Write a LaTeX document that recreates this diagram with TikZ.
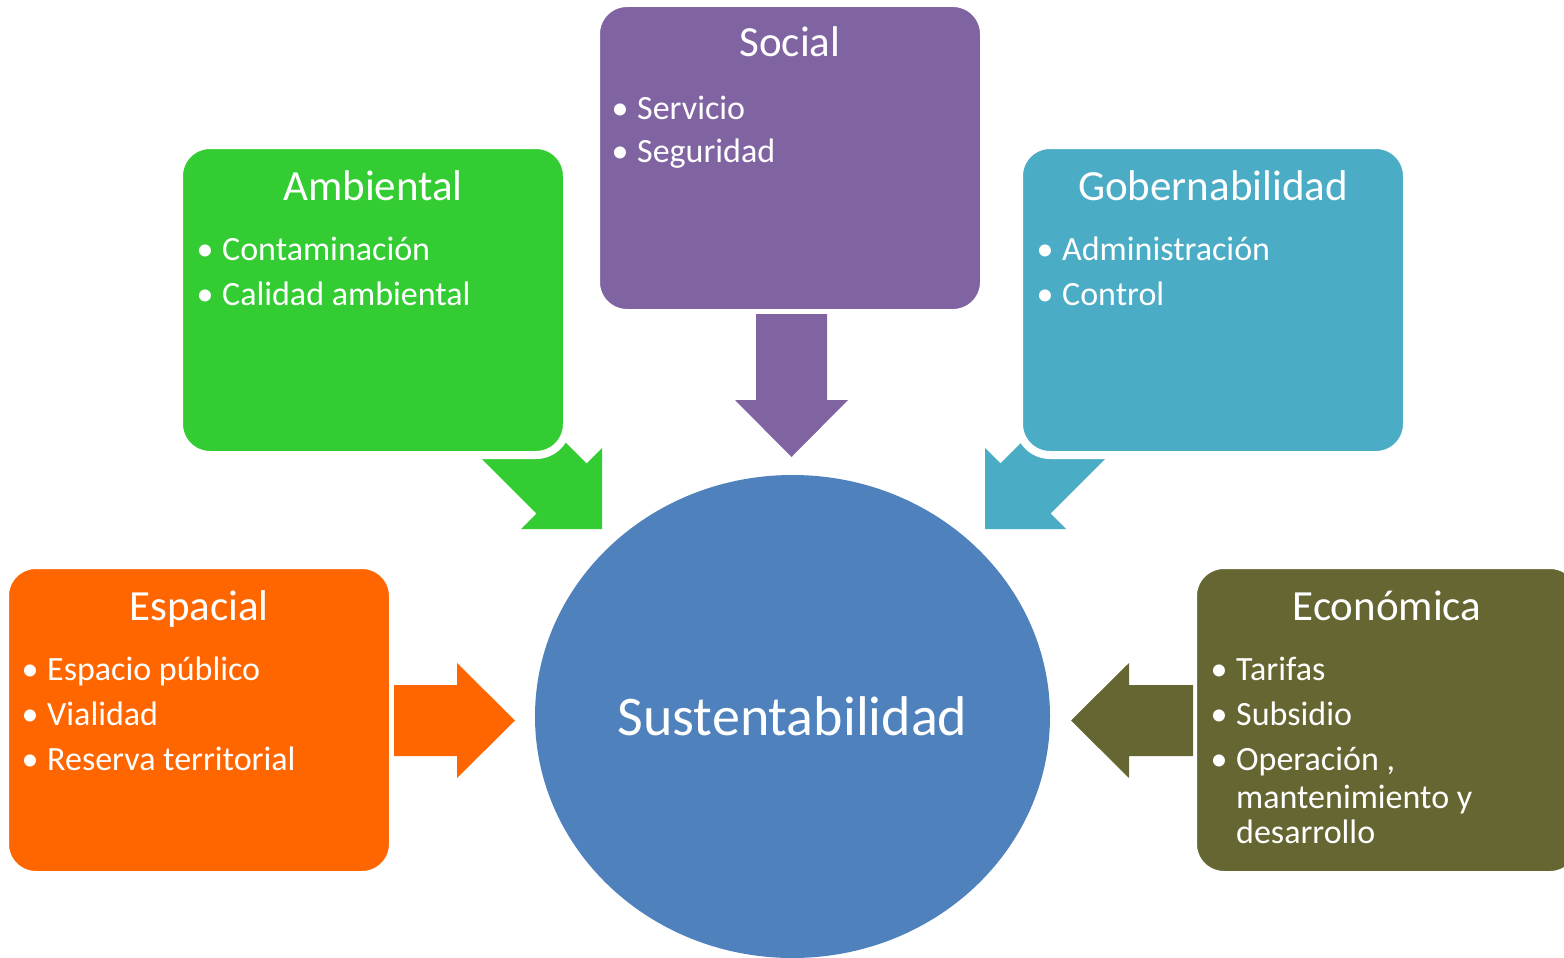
\documentclass[tikz,border=0pt]{standalone}
\usepackage{fontspec}
\setmainfont{Carlito}
\usepackage{tikz}
\usetikzlibrary{shapes.geometric}

\definecolor{socialc}{HTML}{8064A2}
\definecolor{ambc}{HTML}{33CC33}
\definecolor{gobc}{HTML}{4BACC6}
\definecolor{espc}{HTML}{FF6600}
\definecolor{econc}{HTML}{666633}
\definecolor{susc}{HTML}{4F81BD}

\newcommand{\bul}{\makebox[0pt][c]{\textbullet}\hspace{17pt}}

\begin{document}
\begin{tikzpicture}
[x=1pt,y=-1pt,
 box/.style={rectangle,rounded corners=31pt,minimum width=388pt,minimum height=310pt,
   draw=white,line width=8pt,inner sep=0pt},
 title/.style={anchor=base,text=white,font=\fontsize{43}{50}\selectfont,inner sep=0pt},
 item/.style={anchor=base west,text=white,font=\fontsize{34}{40}\selectfont,inner sep=0pt}]
  \useasboundingbox (0,0) rectangle (1564,958);

  % diagonal arrows (under the boxes)
  \fill[ambc] (451.4,428.6) -- (536.4,513.6) -- (521,529) -- (602,529)
    -- (602,448) -- (586.6,463.4) -- (501.6,378.4) -- cycle;
  \fill[gobc] (1135.6,428.6) -- (1050.6,513.6) -- (1066,529) -- (985,529)
    -- (985,448) -- (1000.4,463.4) -- (1085.4,378.4) -- cycle;

  \node[box,fill=socialc] (soc) at (790,158)  {};
  \node[box,fill=ambc]    (amb) at (373,300)  {};
  \node[box,fill=gobc]    (gob) at (1213,300) {};
  \node[box,fill=espc]    (esp) at (199,720)  {};
  \node[box,fill=econc]   (eco) at (1387,720) {};

  \node[ellipse,fill=susc,minimum width=515pt,minimum height=483pt,inner sep=0pt,
    text=white,font=\fontsize{56}{64}\selectfont] (sus) at (792.5,716.5) {Sustentabilidad};

  % straight arrows
  \fill[socialc] (756,314) -- (827,314) -- (827,400) -- (848,400) -- (791.5,457)
    -- (735,400) -- (756,400) -- cycle;
  \fill[espc] (394,685) -- (457,685) -- (457,663) -- (515,720.5) -- (457,778)
    -- (457,756) -- (394,756) -- cycle;
  \fill[econc] (1193,685) -- (1129,685) -- (1129,663) -- (1071,720.5) -- (1129,778)
    -- (1129,756) -- (1193,756) -- cycle;

  \node[title] (tsoc) at (790,57)   {Social};
  \node[title] (tamb) at (373,200)  {Ambiental};
  \node[title] (tgob) at (1213,200) {Gobernabilidad};
  \node[title] (tesp) at (199,620)  {Espacial};
  \node[title] (teco) at (1387,620) {Económica};

  \foreach \n/\x/\y/\t in {s1/620/119/Servicio, s2/620/162/Seguridad,
      a1/205/260/Contaminación, a2/205/305/Calidad ambiental,
      g1/1045/260/Administración, g2/1045/305/Control,
      p1/30/680/Espacio público, p2/30/725/Vialidad, p3/30/770/Reserva territorial,
      e1/1219/680/Tarifas, e2/1219/725/Subsidio, e3/1219/770/{Operación ,}}
    \node[item] (\n) at (\x,\y) {\bul\t};
  \node[item] (e4) at (1236,808) {mantenimiento y};
  \node[item] (e5) at (1236,843) {desarrollo};

\end{tikzpicture}
\end{document}
